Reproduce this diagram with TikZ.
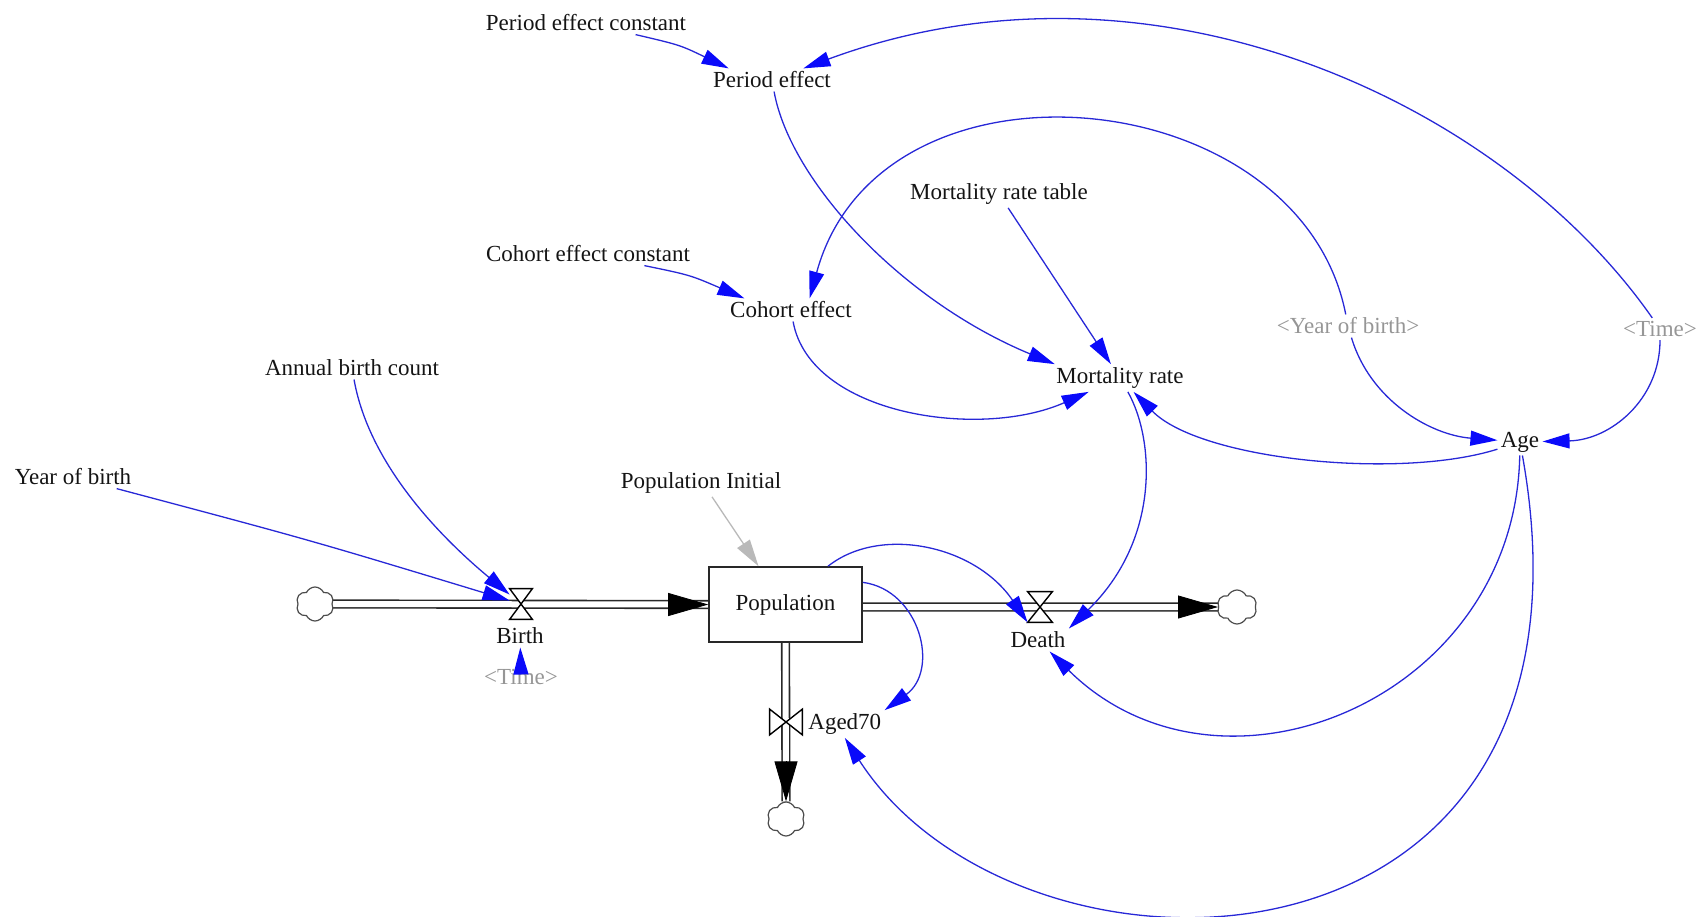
\documentclass[tikz,border=0pt]{standalone}
\usepackage{fontspec}
\setmainfont{Liberation Serif}
\usetikzlibrary{arrows.meta,shapes.symbols,calc,backgrounds}
\definecolor{lnk}{RGB}{40,40,215}
\definecolor{headc}{RGB}{10,10,250}
\definecolor{shadowtxt}{RGB}{150,150,150}
\definecolor{initc}{RGB}{185,185,185}
\definecolor{txt}{RGB}{20,20,20}
\definecolor{pipec}{RGB}{40,40,40}
\begin{document}
\begin{tikzpicture}[x=0.5pt,y=-0.5pt,
  var/.style={font=\fontsize{11.5}{13}\selectfont, text=txt, inner sep=1.5pt},
  shadowvar/.style={var, text=shadowtxt},
  link/.style={draw=lnk, line width=0.65pt, -{Triangle[length=13.5pt,width=7.5pt,color=headc]}},
  initlink/.style={draw=initc, line width=0.65pt, -{Triangle[length=13.5pt,width=7.5pt]}},
  pipe/.style={draw=pipec, line width=0.8pt, double=white, double distance=3pt},
  ftip/.style={draw=black, line width=0.4pt, -{Triangle[length=20pt,width=11.5pt]}},
  stock/.style={var, draw=pipec, line width=0.8pt, fill=white, minimum width=76.5pt, minimum height=37.5pt},
  cloudy/.style={cloud, cloud puffs=6, cloud puff arc=130, cloud ignores aspect, draw=black!70, line width=0.6pt, fill=white, minimum width=19pt, minimum height=17pt, inner sep=0pt},
  valvebox/.style={inner sep=0pt, minimum width=11pt, minimum height=15pt},
  valve/.style={draw=black, line width=0.7pt, fill=white, line join=miter}
]
\useasboundingbox (0,0) rectangle (1701,916);

% variables
\node[var] (pec) at (586,23) {Period effect constant};
\node[var] (pe) at (772,80) {Period effect};
\node[var] (mrt) at (999,194) {Mortality rate table};
\node[var] (cec) at (588,254) {Cohort effect constant};
\node[var] (ce) at (791,310) {Cohort effect};
\node[var] (mr) at (1120,378) {Mortality rate};
\node[shadowvar] (yob2) at (1348,326) {<Year of birth>};
\node[shadowvar] (time2) at (1660,329) {<Time>};
\node[var] (age) at (1520,442) {Age};
\node[var] (abc) at (352,368) {Annual birth count};
\node[var] (yob) at (73,477) {Year of birth};
\node[var] (pi) at (701,483) {Population Initial};

% stock, clouds, valves
\node[stock] (pop) at (785.5,604.5) {Population};
\node[cloudy] (c1) at (315,604) {};
\node[cloudy, minimum width=20pt] (c2) at (1237,607) {};
\node[cloudy] (c3) at (786,819) {};
\node[valvebox] (bv) at (521,604) {};
\node[valvebox, minimum width=12pt] (dv) at (1040,607) {};
\node[valvebox, minimum width=16pt, minimum height=12.5pt] (av) at (786,722) {};

% pipes
\begin{scope}[on background layer]
  \draw[pipe] (c1.east) -- (pop.west);
  \draw[pipe] (pop.east |- dv) -- (c2.west);
  \draw[pipe] (pop.south) -- (c3.north);
\end{scope}
\draw[ftip] ([xshift=-20pt]pop.west) -- (pop.west);
\draw[ftip] ([xshift=-20pt]c2.west) -- (c2.west);
\draw[ftip] ([yshift=20pt]c3.north) -- (c3.north);

\draw[valve] (bv.north west) -- (bv.north east) -- (bv.south west) -- (bv.south east) -- cycle;
\draw[valve] (dv.north west) -- (dv.north east) -- (dv.south west) -- (dv.south east) -- cycle;
\draw[valve] (av.north west) -- (av.south west) -- (av.north east) -- (av.south east) -- cycle;

\node[var] (bl) at (520,636) {Birth};
\node[var] (dl) at (1038,640) {Death};
\node[var, anchor=west] (al) at (805,724) {Aged70};
\node[shadowvar] (time1) at (521,677) {<Time>};

% links
\draw[link] (pec) .. controls (680,45) .. (pe.165);
\draw[link] (time2) .. controls (1500,100) and (1150,-60) .. (pe);
\draw[link] (time2) .. controls (1660,400) and (1610,440) .. (age);
\draw[link] (yob2) .. controls (1370,400) and (1430,435) .. (age);
\draw[link] (yob2) .. controls (1300,80) and (880,40) .. (ce.32);
\draw[link] (mrt) -- (mr);
\draw[link] (pe) .. controls (790,180) and (900,300) .. (mr.168);
\draw[link] (cec) .. controls (690,275) .. (ce.166);
\draw[link] (ce) .. controls (810,415) and (980,440) .. (mr);
\draw[link] (age) .. controls (1400,480) and (1200,460) .. (mr);
\draw[link] (mr) .. controls (1155,440) and (1160,540) .. (dl.north east);
\draw[link] (pop.42) .. controls (880,525) and (975,545) .. (dv.south west);
\draw[link] (pop.16) .. controls (920,590) and (940,670) .. (al.north east);
\draw[link] (age) .. controls (1515,700) and (1220,820) .. (dl);
\draw[link] (age) .. controls (1620,1000) and (1020,1010) .. (al.south);
\draw[link] (yob) .. controls (310,540) .. (bv);
\draw[link] (abc) .. controls (370,470) and (450,545) .. (bv);
\draw[link] (time1) -- (bl);
\draw[initlink] ($(pi.south)+(11,0)$) -- ($(pop.north)+(-27,0)$);
\end{tikzpicture}
\end{document}
